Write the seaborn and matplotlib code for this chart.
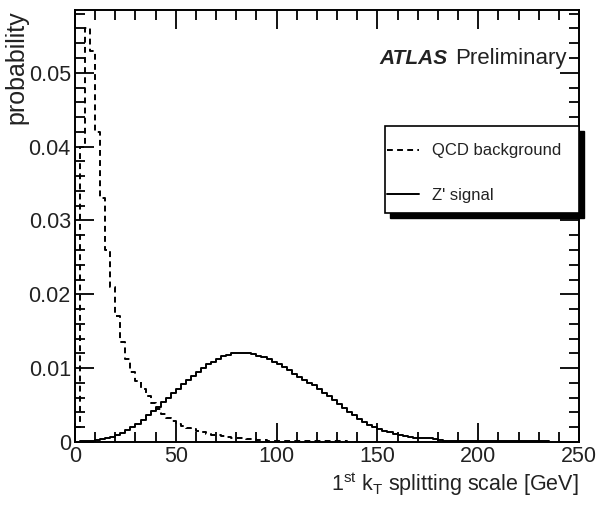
import numpy as np
import pandas as pd
import seaborn as sns
import matplotlib
matplotlib.use("Agg")
import matplotlib.pyplot as plt
from matplotlib.ticker import MultipleLocator
from matplotlib.patches import Rectangle

# ---- data (probability per 2.5 GeV bin) ----
bin_width = 2.5
qcd_values = [0.002, 0.040, 0.056, 0.053, 0.042, 0.033, 0.026, 0.021, 0.017, 0.0135,
              0.0112, 0.0095, 0.0083, 0.0072, 0.0062, 0.0053, 0.0045, 0.0038, 0.0033, 0.0029,
              0.0025, 0.0022, 0.0019, 0.0017, 0.0015, 0.0013, 0.0011, 0.0010, 0.0009, 0.0008,
              0.0007, 0.0006, 0.0005, 0.0005, 0.0004, 0.0004, 0.0003, 0.0003, 0.0002, 0.0002,
              0.0002, 0.0002, 0.0001, 0.0001, 0.0001, 0.0001, 0.0001, 0.0001, 0.0001, 0.0001,
              0.0001, 0.0001, 0.0001, 0.0001, 0.00005, 0.00005, 0.00005, 0.00005, 0.00005, 0.00005]
signal_values = [0.0000, 0.0001, 0.0001, 0.0002, 0.0003, 0.0004, 0.0005, 0.0007, 0.0009, 0.0012,
                 0.0016, 0.0020, 0.0025, 0.0030, 0.0036, 0.0042, 0.0048, 0.0054, 0.0060, 0.0066,
                 0.0072, 0.0078, 0.0084, 0.0089, 0.0095, 0.0100, 0.0105, 0.0109, 0.0113, 0.0116,
                 0.0118, 0.0120, 0.0121, 0.0120, 0.0120, 0.0119, 0.0117, 0.0115, 0.0112, 0.0109,
                 0.0105, 0.0101, 0.0097, 0.0092, 0.0088, 0.0084, 0.0080, 0.0077, 0.0072, 0.0067,
                 0.0062, 0.0057, 0.0051, 0.0046, 0.0041, 0.0036, 0.0031, 0.0027, 0.0023, 0.0020,
                 0.0018, 0.0015, 0.0013, 0.0011, 0.0010, 0.0008, 0.0007, 0.0006, 0.0006, 0.0005,
                 0.0005, 0.0004, 0.0003, 0.0002,
                 0.0001, 0.0001, 0.0001, 0.0001, 0.0001, 0.0001, 0.0001, 0.0001, 0.0001, 0.0001,
                 0.0001, 0.0001, 0.0001, 0.0001, 0.0001, 0.0001, 0.0001, 0.0001, 0.0001, 0.0001]
series_labels = ["QCD background", "Z' signal"]
x_ticks = [0, 50, 100, 150, 200, 250]
y_ticks = [0, 0.01, 0.02, 0.03, 0.04, 0.05]
y_tick_labels = ["0", "0.01", "0.02", "0.03", "0.04", "0.05"]

def make_df(vals, label):
    centers = bin_width * (np.arange(len(vals)) + 0.5)
    return pd.DataFrame({"kt": centers, "p": vals, "sample": label})

df_qcd = make_df(qcd_values, series_labels[0])
df_sig = make_df(signal_values, series_labels[1])

sns.set_theme(style="ticks")
plt.rcParams["font.family"] = ["Liberation Sans", "DejaVu Sans"]

fig = plt.figure(figsize=(5.96, 5.05), dpi=100)
ax = fig.add_axes([75 / 596, 63 / 505, 504 / 596, 432 / 505])

sns.histplot(data=df_qcd, x="kt", weights="p", binwidth=bin_width,
             binrange=(0, bin_width * len(qcd_values)), element="step", fill=False,
             color="black", linewidth=1.4, linestyle=(0, (3.0, 2.2)), ax=ax,
             label=series_labels[0])
sns.histplot(data=df_sig, x="kt", weights="p", binwidth=bin_width,
             binrange=(0, bin_width * len(signal_values)), element="step", fill=False,
             color="black", linewidth=1.4, ax=ax, label=series_labels[1])

ax.set_xlim(0, 250)
ax.set_ylim(0, 0.0585)
ax.set_xticks(x_ticks)
ax.set_xticklabels([str(t) for t in x_ticks])
ax.set_yticks(y_ticks)
ax.set_yticklabels(y_tick_labels)
ax.xaxis.set_minor_locator(MultipleLocator(10))
ax.yaxis.set_minor_locator(MultipleLocator(0.002))
ax.tick_params(which="both", direction="in", top=True, right=True, color="black",
               width=1.3, labelsize=15.5, labelcolor="#222222")
ax.tick_params(which="major", length=14, pad=3)
ax.tick_params(which="minor", length=7)
for s in ax.spines.values():
    s.set_linewidth(1.4)
    s.set_color("black")

ax.set_xlabel(r"1$^{\mathregular{st}}$ k$_{\mathregular{T}}$ splitting scale [GeV]",
              loc="right", fontsize=15.5, labelpad=2, color="#222222")
ax.set_ylabel("probability", loc="top", fontsize=18, labelpad=0, color="#222222")

ax.text(0.740, 0.888, "ATLAS", transform=ax.transAxes, fontsize=15,
        fontweight="bold", fontstyle="italic", ha="right", va="center", color="#222222")
ax.text(0.976, 0.888, "Preliminary", transform=ax.transAxes, fontsize=16,
        ha="right", va="center", color="#222222")

# legend frame with ROOT-style shadow
box_x, box_y, box_w, box_h = 0.615, 0.530, 0.385, 0.201
ax.add_patch(Rectangle((box_x + 0.0099, box_y - 0.0116), box_w, box_h, transform=ax.transAxes,
                       facecolor="black", edgecolor="black", clip_on=False, zorder=5))
ax.add_patch(Rectangle((box_x, box_y), box_w, box_h, transform=ax.transAxes,
                       facecolor="white", edgecolor="black", linewidth=1.2,
                       clip_on=False, zorder=6))
leg = ax.legend(loc="upper left", bbox_to_anchor=(box_x, box_y + box_h - 0.034),
                borderaxespad=0, fontsize=12, frameon=False,
                handlelength=1.9, handletextpad=0.8, labelspacing=1.75, borderpad=0.15)
leg.set_zorder(7)
for t in leg.get_texts():
    t.set_color("#222222")

fig.savefig("out.png", dpi=100)
